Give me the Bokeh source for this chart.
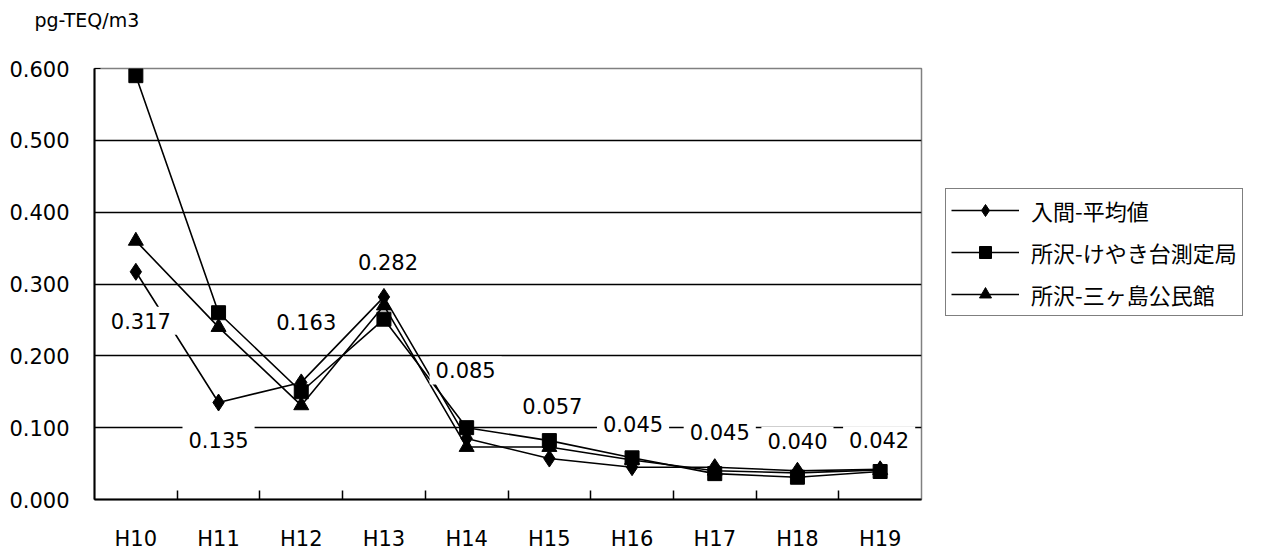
from bokeh.plotting import figure
from bokeh.models import (Range1d, FixedTicker, Title, Legend, LegendItem,
                          ColumnDataSource, CustomJSTickFormatter)
from bokeh.embed import file_html
from bokeh.resources import INLINE
from bokeh.core.properties import value

# ---------------- data ----------------
categories = ["H10", "H11", "H12", "H13", "H14", "H15", "H16", "H17", "H18", "H19"]
iruma_avg = [0.317, 0.135, 0.163, 0.282, 0.085, 0.057, 0.045, 0.045, 0.040, 0.042]
tokorozawa_keyakidai = [0.590, 0.260, 0.150, 0.251, 0.100, 0.082, 0.058, 0.036, 0.031, 0.039]
tokorozawa_mikajima = [0.360, 0.240, 0.131, 0.270, 0.073, 0.073, 0.055, 0.040, 0.037, 0.041]
series_names = ["入間-平均値", "所沢-けやき台測定局", "所沢-三ヶ島公民館"]
y_ticks = [0.0, 0.1, 0.2, 0.3, 0.4, 0.5, 0.6]
y_tick_labels = ["0.000", "0.100", "0.200", "0.300", "0.400", "0.500", "0.600"]
unit_text = "pg-TEQ/m3"

# data-label placement (pixel offsets from the 入間 point)
label_dx = [5, 0, 5, 4, -1, 3, 1, 5, 0, -1]
label_dy = [49, 37, -60, -35, -68, -53, -43, -35, -30, -29]

# ---------------- figure ----------------
FONT = "DejaVu Sans"
p = figure(frame_width=827, frame_height=431, output_backend="svg", toolbar_location=None,
           x_range=Range1d(-0.5, len(categories) - 0.5), y_range=Range1d(0, 0.6),
           min_border_left=94, min_border_right=344, min_border_top=68, min_border_bottom=50)
p.background_fill_color = "white"
p.border_fill_color = "white"
p.outline_line_color = "#808080"
p.outline_line_width = 1.5

xs = list(range(len(categories)))

# x axis
xa = p.xaxis[0]
xa.ticker = FixedTicker(ticks=xs, minor_ticks=[i + 0.5 for i in xs[:-1]])
xa.formatter = CustomJSTickFormatter(args=dict(labels=categories),
                                     code="const i = Math.round(tick); return labels[i] ?? '';")
xa.major_tick_in = 0
xa.major_tick_out = 0
xa.minor_tick_in = 9
xa.minor_tick_out = 0
xa.minor_tick_line_color = "black"
xa.minor_tick_line_width = 1.5
xa.axis_line_color = "black"
xa.axis_line_width = 2
xa.major_label_text_font = FONT
xa.major_label_text_font_size = "21px"
xa.major_label_text_color = "black"
xa.major_label_standoff = 27

# y axis
ya = p.yaxis[0]
ya.ticker = FixedTicker(ticks=y_ticks, minor_ticks=[])
ya.formatter = CustomJSTickFormatter(args=dict(labels=y_tick_labels),
                                     code="const i = Math.round(tick * 10); return labels[i] ?? '';")
ya.major_tick_in = 6
ya.major_tick_out = 0
ya.major_tick_line_color = "black"
ya.axis_line_color = "black"
ya.axis_line_width = 2
ya.major_label_text_font = FONT
ya.major_label_text_font_size = "21px"
ya.major_label_text_color = "black"
ya.major_label_standoff = 25

p.xgrid.visible = False
p.ygrid.ticker = FixedTicker(ticks=y_ticks[:-1])
p.ygrid.grid_line_color = "black"
p.ygrid.grid_line_width = 1.3

# ---------------- series ----------------
src = ColumnDataSource(dict(
    x=xs, a=iruma_avg, b=tokorozawa_keyakidai, c=tokorozawa_mikajima,
    label=[f"{v:.3f}" for v in iruma_avg], dx=label_dx, dy=label_dy,
))

items = []
specs = [
    ("a", series_names[0], dict(marker="diamond", size=17)),
    ("b", series_names[1], dict(marker="square", size=14)),
    ("c", series_names[2], dict(marker="triangle", size=15)),
]
for col, name, mk in specs:
    lr = p.line("x", col, source=src, line_color="black", line_width=1.6)
    sr = p.scatter("x", col, source=src, fill_color="black", line_color="black", **mk)
    items.append(LegendItem(label=name, renderers=[lr, sr]))

# data labels for 入間-平均値
p.text("x", "a", text="label", source=src, x_offset="dx", y_offset="dy",
       text_align="center", text_baseline="middle",
       text_font=value(FONT), text_font_size="21px", text_color="black",
       background_fill_color="white", padding=6)

# unit text above the value axis (a trailing empty line lifts it up)
p.add_layout(Title(text=unit_text + "\n", align="left", offset=-60,
                   text_font=FONT, text_font_size="19px", text_font_style="normal",
                   text_line_height=1.5, text_color="black"), "above")

# legend (right of the plot area)
legend = Legend(items=items, location=(24, 183), orientation="vertical",
                label_text_font="Noto Sans CJK JP", label_text_font_size="22px",
                label_text_color="black",
                glyph_width=68, glyph_height=30, label_height=30,
                label_standoff=12, spacing=10, padding=5, margin=0,
                border_line_color="black", border_line_width=1.5,
                background_fill_color="white", background_fill_alpha=1.0)
p.add_layout(legend, "right")

open("out.html", "w").write(file_html(p, INLINE))
